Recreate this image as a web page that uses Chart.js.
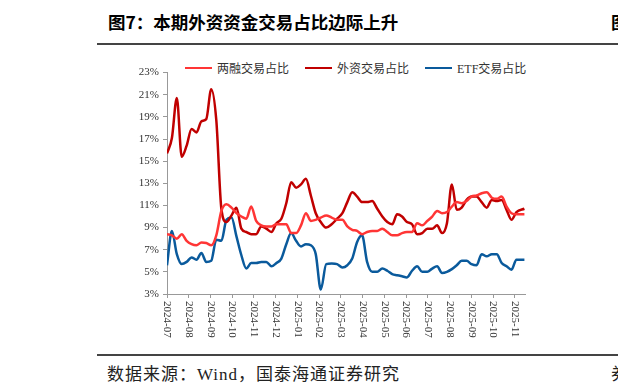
<!DOCTYPE html>
<html>
<head>
    <meta charset="utf-8">
    <title>图7 本期外资资金交易占比边际上升</title>
    <script src="https://cdn.jsdelivr.net/npm/chart.js"></script>
    <style>
        body {
            margin: 0;
            width: 618px;
            height: 391px;
            background: #fff;
            position: relative;
            overflow: hidden;
            font-family: "Liberation Serif", "Noto Sans CJK SC", serif;
        }
        .title {
            position: absolute;
            left: 108px;
            top: 9px;
            font: bold 17.5px "Noto Sans CJK SC", sans-serif;
            color: #000;
            white-space: nowrap;
        }
        .cut {
            position: absolute;
            left: 611px;
            white-space: nowrap;
        }
        .rule {
            position: absolute;
            left: 97px;
            width: 521px;
            background: #444;
        }
        .source {
            position: absolute;
            left: 107px;
            top: 360px;
            font-size: 17px;
            letter-spacing: 1px;
            color: #222;
            white-space: nowrap;
        }
        #legend {
            position: absolute;
            left: 185px;
            top: 59px;
            display: flex;
            gap: 16px;
            font-size: 12px;
            color: #333;
            white-space: nowrap;
        }
        #legend span.item { display: flex; align-items: center; }
        #legend span.swatch { display: inline-block; width: 27px; height: 2.5px; margin-right: 5px; }
        #wrap {
            position: absolute;
            left: 100px;
            top: 62px;
            width: 430px;
            height: 292px;
        }
    </style>
</head>
<body>
    <div class="title">图7：本期外资资金交易占比边际上升</div>
    <div class="title cut" style="left:611px">图</div>
    <div class="rule" style="top:43px;height:2px"></div>
    <div id="legend"></div>
    <div id="wrap"><canvas id="shareChart" width="430" height="292"></canvas></div>
    <div class="rule" style="top:354px;height:1.5px"></div>
    <div class="source">数据来源：Wind，国泰海通证券研究</div>
    <div class="source cut" style="left:611px">券</div>

    <script>
        // month tick labels
        const months = ['2024-07', '2024-08', '2024-09', '2024-10', '2024-11', '2024-12',
            '2025-01', '2025-02', '2025-03', '2025-04', '2025-05', '2025-06',
            '2025-07', '2025-08', '2025-09', '2025-10', '2025-11'];

        // weekly observation dates
        const dates = [
            '2024-07-01', '2024-07-08', '2024-07-15', '2024-07-22', '2024-07-29',
            '2024-08-05', '2024-08-12', '2024-08-19', '2024-08-26',
            '2024-09-02', '2024-09-09', '2024-09-16', '2024-09-23', '2024-09-30',
            '2024-10-07', '2024-10-14', '2024-10-21', '2024-10-28',
            '2024-11-04', '2024-11-11', '2024-11-18', '2024-11-25',
            '2024-12-02', '2024-12-09', '2024-12-16', '2024-12-23', '2024-12-30',
            '2025-01-06', '2025-01-13', '2025-01-20', '2025-01-27',
            '2025-02-03', '2025-02-10', '2025-02-17', '2025-02-24',
            '2025-03-03', '2025-03-10', '2025-03-17', '2025-03-24', '2025-03-31',
            '2025-04-07', '2025-04-14', '2025-04-21', '2025-04-28',
            '2025-05-05', '2025-05-12', '2025-05-19', '2025-05-26',
            '2025-06-02', '2025-06-09', '2025-06-16', '2025-06-23', '2025-06-30',
            '2025-07-07', '2025-07-14', '2025-07-21', '2025-07-28',
            '2025-08-04', '2025-08-11', '2025-08-18', '2025-08-25',
            '2025-09-01', '2025-09-08', '2025-09-15', '2025-09-22', '2025-09-29',
            '2025-10-06', '2025-10-13', '2025-10-20', '2025-10-27',
            '2025-11-03', '2025-11-14'];

        // 两融交易占比 (%)
        const marginShare = [8.4, 8.3, 8.0, 8.4, 7.8, 7.5, 7.4, 7.65, 7.6, 7.4,
            8.3, 10.5, 11.1, 10.8, 10.3, 10.0, 9.8, 10.9, 9.6, 9.2,
            9.1, 9.1, 9.3, 9.3, 9.3, 8.5, 8.5, 9.2, 10.3, 9.6,
            9.7, 9.9, 10.1, 9.9, 9.7, 9.7, 9.1, 8.8, 8.7, 8.4,
            8.6, 8.7, 8.7, 8.9, 8.6, 8.3, 8.3, 8.5, 8.6, 8.6,
            9.4, 9.2, 9.6, 10.0, 10.5, 10.3, 10.4, 10.9, 11.3, 11.2,
            11.4, 11.8, 11.9, 12.1, 12.2, 11.7, 11.6, 11.8, 10.9, 10.3,
            10.2, 10.2];

        // 外资交易占比 (%)
        const foreignShare = [15.7, 17.1, 20.7, 15.4, 16.4, 17.9, 17.6, 18.6, 18.8, 21.5,
            18.7, 10.7, 9.5, 10.1, 10.8, 8.9, 8.6, 8.4, 8.4, 9.1,
            8.9, 8.6, 9.4, 9.8, 11.2, 13.1, 12.6, 12.9, 13.4, 11.9,
            10.3, 9.5, 9.0, 9.3, 9.8, 10.3, 11.3, 12.2, 11.8, 11.3,
            11.3, 11.4, 10.7, 10.0, 9.5, 9.3, 10.2, 10.0, 9.5, 9.3,
            8.4, 8.5, 8.9, 8.9, 9.2, 8.5, 9.4, 12.9, 10.6, 10.8,
            11.5, 11.8, 11.8, 11.3, 10.8, 11.5, 11.4, 11.5, 10.6, 9.7,
            10.4, 10.7];

        // ETF交易占比 (%)
        const etfShare = [5.6, 8.7, 6.6, 5.7, 5.9, 6.3, 6.1, 6.7, 5.9, 6.0,
            7.9, 7.8, 9.7, 9.9, 8.2, 6.5, 5.3, 5.8, 5.8, 5.9,
            5.9, 5.5, 5.8, 6.2, 7.5, 8.5, 7.8, 7.3, 7.5, 7.4,
            6.6, 3.4, 5.7, 5.75, 5.7, 5.4, 5.6, 6.2, 7.7, 8.3,
            5.9, 5.0, 5.0, 5.3, 5.1, 4.8, 4.7, 4.6, 4.5, 5.1,
            5.5, 5.0, 5.0, 5.3, 5.5, 4.9, 5.0, 5.25, 5.6, 6.0,
            6.0, 5.7, 5.6, 6.6, 6.4, 6.6, 6.6, 5.8, 5.5, 5.2,
            6.1, 6.1];

        // date -> position in months from 2024-07-01
        function monthPos(d) {
            const [y, m, day] = d.split('-').map(Number);
            const dim = new Date(y, m, 0).getDate();
            return (y - 2024) * 12 + (m - 7) + (day - 1) / dim;
        }
        const toPoints = arr => dates.map((d, i) => ({ x: monthPos(d), y: arr[i] }));

        const serif = '"Liberation Serif", "Noto Sans CJK SC", serif';

        // rotated month labels (reading top to bottom)
        const monthLabels = {
            id: 'monthLabels',
            afterDraw(chart) {
                const sx = chart.scales.x;
                const ctx = chart.ctx;
                ctx.save();
                ctx.font = '11px ' + serif;
                ctx.fillStyle = '#333';
                ctx.textAlign = 'left';
                ctx.textBaseline = 'middle';
                sx.ticks.forEach(t => {
                    const label = months[t.value];
                    if (!label) return;
                    ctx.save();
                    ctx.translate(sx.getPixelForValue(t.value), sx.top + 7);
                    ctx.rotate(Math.PI / 2);
                    ctx.fillText(label, 0, 0);
                    ctx.restore();
                });
                ctx.restore();
            }
        };

        const chart = new Chart(document.getElementById('shareChart').getContext('2d'), {
            type: 'line',
            data: {
                datasets: [
                    { label: '两融交易占比', data: toPoints(marginShare), borderColor: '#FF3535' },
                    { label: '外资交易占比', data: toPoints(foreignShare), borderColor: '#C00000' },
                    { label: 'ETF交易占比', data: toPoints(etfShare), borderColor: '#0A5A9C' }
                ]
            },
            options: {
                responsive: false,
                animation: false,
                layout: { padding: { top: 10, right: 5, left: 0, bottom: 0 } },
                elements: {
                    point: { radius: 0 },
                    line: { borderWidth: 2.5, cubicInterpolationMode: 'monotone', fill: false }
                },
                plugins: { legend: { display: false }, tooltip: { enabled: false } },
                scales: {
                    x: {
                        type: 'linear',
                        min: 0,
                        max: 16.46,
                        ticks: { stepSize: 1, includeBounds: false, display: false },
                        grid: { drawOnChartArea: false, drawTicks: true, tickLength: 4, color: '#999' },
                        border: { color: '#999' },
                        afterFit(scale) { scale.height = 60; }
                    },
                    y: {
                        min: 3,
                        max: 23,
                        ticks: {
                            stepSize: 2,
                            color: '#333',
                            padding: 4,
                            font: { family: serif, size: 11 },
                            callback: v => v + '%'
                        },
                        grid: { drawOnChartArea: false, drawTicks: true, tickLength: 4, color: '#999' },
                        border: { color: '#999' },
                        afterFit(scale) { scale.width = 67; }
                    }
                }
            },
            plugins: [monthLabels]
        });

        // legend built from the datasets
        const legend = document.getElementById('legend');
        chart.data.datasets.forEach(ds => {
            const item = document.createElement('span');
            item.className = 'item';
            const sw = document.createElement('span');
            sw.className = 'swatch';
            sw.style.background = ds.borderColor;
            item.appendChild(sw);
            item.appendChild(document.createTextNode(ds.label));
            legend.appendChild(item);
        });
    </script>
</body>
</html>
